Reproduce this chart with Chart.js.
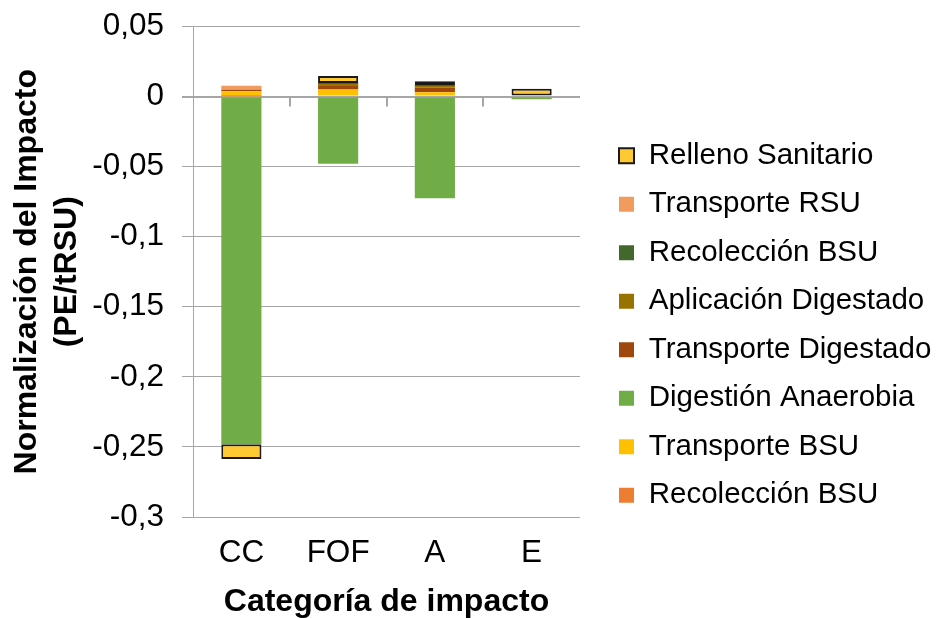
<!DOCTYPE html>
<html>
<head>
<meta charset="utf-8">
<script src="https://cdn.jsdelivr.net/npm/chart.js@4/dist/chart.umd.min.js"></script>
<style>
html,body{margin:0;padding:0;background:#fff;}
#wrap{width:937px;height:618px;}
</style>
</head>
<body>
<div id="wrap"><canvas id="c" width="937" height="618"></canvas></div>
<script>
const categories = ['CC', 'FOF', 'A', 'E'];

const recoleccionBSU      = [0.0003, 0, 0, 0];
const transporteBSU       = [0.0035, 0.005, 0.003, 0];
const digestionAnaerobia  = [-0.248, -0.0474, -0.0725, -0.002];
const transporteDigestado = [0.001, 0.0025, 0.0035, 0];
const aplicacionDigestado = [0, 0.0015, 0.001, 0];
const recoleccionBSU2     = [0, 0.0007, 0.0007, 0];
const transporteRSU       = [0.003, -0.0007, 0, 0];
const rellenoSanitario    = [-0.0107, 0.005, 0.0027, 0.0055];

const yTicks = [0.05, 0, -0.05, -0.1, -0.15, -0.2, -0.25, -0.3];

const FONT = "'Liberation Sans', Arial, sans-serif";

function ds(label, data, color, extra) {
  return Object.assign({
    label: label,
    data: data,
    backgroundColor: color,
    borderWidth: 0,
    stack: 's'
  }, extra || {});
}

const datasets = [
  ds('Recolección BSU', recoleccionBSU, '#ED7D31'),
  ds('Transporte BSU', transporteBSU, '#FFC000'),
  ds('Digestión Anaerobia', digestionAnaerobia, '#70AD47'),
  ds('Transporte Digestado', transporteDigestado, '#9E480E'),
  ds('Aplicación Digestado', aplicacionDigestado, '#997300'),
  ds('Recolección BSU', recoleccionBSU2, '#43682B'),
  ds('Transporte RSU', transporteRSU, '#F19C5E'),
  ds('Relleno Sanitario', rellenoSanitario, '#FFC933', {borderColor: '#1a1a1a', borderWidth: 2, borderSkipped: false})
];

const zeroTicks = {
  id: 'zeroTicks',
  beforeDatasetsDraw(chart) {
    const x = chart.scales.x, y = chart.scales.y, ctx = chart.ctx;
    const y0 = y.getPixelForValue(0);
    ctx.save();
    ctx.strokeStyle = '#A6A6A6';
    ctx.lineWidth = 2;
    for (let i = 0; i < categories.length - 1; i++) {
      const px = Math.round((x.getPixelForValue(i) + x.getPixelForValue(i + 1)) / 2);
      ctx.beginPath();
      ctx.moveTo(px, y0);
      ctx.lineTo(px, y0 + 10);
      ctx.stroke();
    }
    ctx.restore();
  }
};

new Chart(document.getElementById('c'), {
  type: 'bar',
  data: { labels: categories, datasets: datasets },
  plugins: [zeroTicks],
  options: {
    responsive: false,
    animation: false,
    devicePixelRatio: 1,
    layout: { padding: { top: 2, right: 0, bottom: 0, left: 7.5 } },
    datasets: { bar: { barPercentage: 0.415, categoryPercentage: 1 } },
    plugins: {
      tooltip: { enabled: false },
      legend: {
        position: 'right',
        reverse: true,
        maxWidth: 337,
        title: { display: true, text: ' ', font: { size: 11, lineHeight: 1 }, padding: 10 },
        labels: {
          font: { family: FONT, size: 29.5 },
          color: '#000',
          boxWidth: 15,
          boxHeight: 15,
          padding: 19
        }
      }
    },
    scales: {
      x: {
        stacked: true,
        grid: { display: false, drawTicks: false },
        border: { display: false },
        ticks: { font: { family: FONT, size: 31.5 }, color: '#000', padding: 17 },
        title: { display: true, text: 'Categoría de impacto', font: { family: FONT, size: 32, weight: 'bold', lineHeight: 1 }, color: '#000', padding: { top: 14, bottom: 0 } },
        afterFit(scale) { scale.height = 101; }
      },
      y: {
        stacked: true,
        min: -0.3,
        max: 0.05,
        afterBuildTicks(scale) { scale.ticks = yTicks.map(v => ({ value: v })); },
        afterFit(scale) { scale.width = 185.5; scale.paddingTop = 26.5; scale.paddingBottom = 20; },
        grid: {
          color: '#A6A6A6',
          lineWidth: ctx => (ctx.tick && ctx.tick.value === 0 ? 2 : 1),
          tickLength: 11,
          drawTicks: true
        },
        border: { display: true, color: '#A6A6A6', width: 1 },
        ticks: {
          font: { family: FONT, size: 31.5 },
          color: '#000',
          padding: 18,
          callback: v => String(Math.round(v * 100) / 100).replace('.', ',')
        },
        title: {
          display: true,
          text: ['Normalización del Impacto', '(PE/tRSU)'],
          font: { family: FONT, size: 32, weight: 'bold', lineHeight: 1.25 },
          color: '#000',
          padding: { top: 0, bottom: 5 }
        }
      },
      gap: {
        type: 'linear',
        position: 'right',
        display: true,
        grid: { display: false, drawTicks: false },
        border: { display: false },
        ticks: { display: false },
        afterFit(scale) { scale.width = 20; }
      }
    }
  }
});
</script>
</body>
</html>
